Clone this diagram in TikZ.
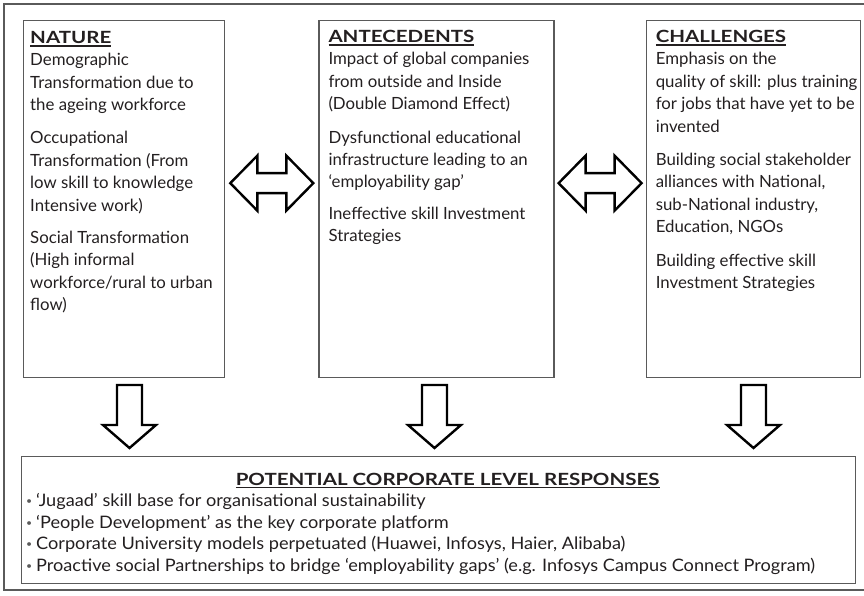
\documentclass[tikz,border=0pt]{standalone}
\usepackage{fontspec}
\setmainfont{Lato}
\newfontfamily\headfont{Lato}[FakeStretch=1.22,Ligatures=TeX]
\newfontfamily\listfont{Lato}[FakeStretch=1.055,Ligatures=TeX]
\usetikzlibrary{positioning,calc}

\definecolor{inkBlack}{RGB}{35,31,32}
\definecolor{frameGray}{RGB}{90,90,90}

% bold heading with a heavy underline
\newlength\headwd
\newcommand{\ulhead}[1]{\settowidth{\headwd}{\headfont\bfseries #1}{\headfont\bfseries #1}\hspace{-\headwd}\rule[-3.2pt]{\headwd}{1.4pt}}
\newcommand{\bul}{\makebox[10pt][l]{\raisebox{1.8pt}{\color{frameGray}\fontsize{10}{10}\selectfont\textbullet}}}

\tikzset{
  hollow/.style={draw=black,line width=2.4pt,line join=miter,fill=white},
  % block arrow pointing both ways
  pics/twoway/.style={code={
    \draw[hollow] (-41.5,0) -- (-14.5,-27.5) -- (-14.5,-10) -- (14.5,-10) -- (14.5,-27.5)
      -- (41.5,0) -- (14.5,27.5) -- (14.5,10) -- (-14.5,10) -- (-14.5,27.5) -- cycle;}},
  % block arrow pointing down
  pics/downway/.style={code={
    \draw[hollow] (-12.5,0) -- (12.5,0) -- (12.5,40) -- (26.5,40) -- (0,63)
      -- (-26.5,40) -- (-12.5,40) -- cycle;}}
}

\begin{document}
\begin{tikzpicture}[x=1pt,y=-1pt,font=\fontsize{16.8}{22.4}\selectfont,
    panel/.style={draw=frameGray,line width=1.3pt,minimum height=357pt,inner sep=0pt,anchor=north west},
    body/.style={anchor=north west,inner sep=0pt,align=left,text=inkBlack}]
  \useasboundingbox (0,0) rectangle (864,596);
  \draw[frameGray,line width=1.3pt] (4,4) rectangle (866,590);

  \node[panel,minimum width=201.5pt] (nature) at (22.5,20) {};
  \node[panel,minimum width=235pt,right=93pt of nature] (ante) {};
  \node[panel,minimum width=214pt,right=91pt of ante] (chall) {};
  \node[panel,minimum width=834pt,minimum height=127pt] (resp) at (21,456) {};

  \node[body] (natureTxt) at ($(nature.north west)+(7.5,11)$) {\ulhead{NATURE}\\
    Demographic\\
    Transformation due to\\
    the ageing workforce\\[11pt]
    Occupational\\
    Transformation (From\\
    low skill to knowledge\\
    Intensive work)\\[10pt]
    Social Transformation\\
    (High informal\\
    workforce/rural to urban\\
    flow)};
  \node[body] (anteTxt) at ($(ante.north west)+(10,10)$) {\ulhead{ANTECEDENTS}\\
    Impact of global companies\\
    from outside and Inside\\
    (Double Diamond Effect)\\[11pt]
    Dysfunctional educational\\
    infrastructure leading to an\\
    `employability gap'\\[9pt]
    Ineffective skill Investment\\
    Strategies};
  \node[body] (challTxt) at ($(chall.north west)+(10,10)$) {\ulhead{CHALLENGES}\\
    Emphasis on the\\
    quality of skill: plus training\\
    for jobs that have yet to be\\
    invented\\[11pt]
    Building social stakeholder\\
    alliances with National,\\
    sub-National industry,\\
    Education, NGOs\\[11pt]
    Building effective skill\\
    Investment Strategies};

  \node[anchor=base,inner sep=0pt,text=inkBlack] (respHead) at ($(resp.north)+(9,29)$)
    {\ulhead{POTENTIAL CORPORATE LEVEL RESPONSES}};
  \node[body,font=\listfont\fontsize{17.2}{21.7}\selectfont] (respList) at ($(resp.north west)+(5,37)$) {%
    \bul`Jugaad' skill base for organisational sustainability\\
    \bul`People Development' as the key corporate platform\\
    \bul Corporate University models perpetuated (Huawei, Infosys, Haier, Alibaba)\\
    \bul Proactive social Partnerships to bridge `employability gaps' (e.g. Infosys Campus Connect Program)};

  % arrows between the panels and down to the responses
  \pic at ($(nature.east)!0.5!(ante.west)+(0,-16)$) {twoway};
  \pic at ($(ante.east)!0.5!(chall.west)+(0,-16)$) {twoway};
  \pic at (129.5,385) {downway};
  \pic at (434.5,385) {downway};
  \pic at (753.5,385) {downway};
\end{tikzpicture}
\end{document}
